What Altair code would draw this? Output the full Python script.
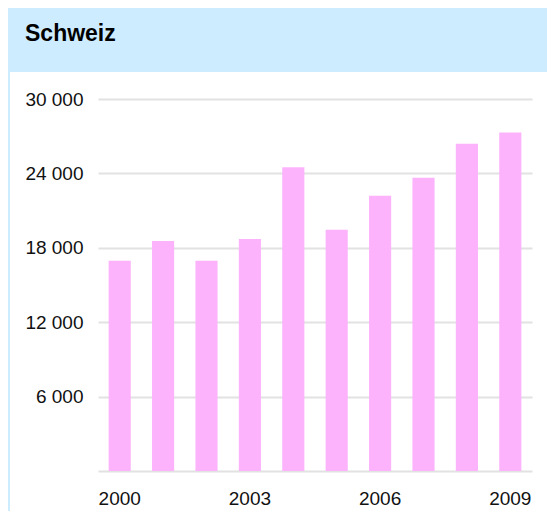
import altair as alt
import pandas as pd

# ---- data ----
years = [2000, 2001, 2002, 2003, 2004, 2005, 2006, 2007, 2008, 2009]
values = [16950, 18550, 16950, 18700, 24500, 19450, 22200, 23650, 26400, 27300]
y_ticks = [0, 6000, 12000, 18000, 24000, 30000]
x_label_years = [2000, 2003, 2006, 2009]
title_text = ["Schweiz"]

HEADER = "#cdecff"
PINK = "#fcb3fc"
FONT = "Liberation Sans"

df = pd.DataFrame({"year": years, "value": values})
tdf = pd.DataFrame({"t": title_text})

W, H = 434, 372

header = alt.Chart(tdf).mark_rect(color=HEADER).encode(
    x=alt.value(-90), x2=alt.value(449), y=alt.value(-91), y2=alt.value(-27)
)
strip = alt.Chart(tdf).mark_rect(color=HEADER).encode(
    x=alt.value(-90), x2=alt.value(-88), y=alt.value(-27), y2=alt.value(412)
)
title = alt.Chart(tdf).mark_text(
    align="left", baseline="alphabetic", fontSize=23, fontWeight="bold",
    font=FONT, color="#000000"
).encode(x=alt.value(-73), y=alt.value(-58), text="t:N")

bars = alt.Chart(df).mark_bar(color=PINK).encode(
    x=alt.X(
        "year:O",
        scale=alt.Scale(paddingInner=0.49, paddingOuter=0.245),
        axis=alt.Axis(
            values=x_label_years, labelAngle=0, title=None, ticks=False,
            domain=False, grid=False, labelPadding=18, labelFontSize=19,
            labelFont=FONT, labelColor="#111111",
        ),
    ),
    y=alt.Y(
        "value:Q",
        scale=alt.Scale(domain=[0, 30000], nice=False),
        axis=alt.Axis(
            values=y_ticks, title=None, ticks=False, domain=False, grid=True,
            gridColor="#e2e2e2", gridWidth=2, labelPadding=15,
            labelFontSize=19, labelFont=FONT, labelColor="#111111",
            labelExpr="datum.value == 0 ? '' : replace(format(datum.value, ','), ',', ' ')",
        ),
    ),
)

chart = alt.layer(header, strip, title, bars).properties(
    width=W, height=H, padding=0, background="white"
).configure_view(stroke=None)

chart.save("out.html", embed_options={"renderer": "svg", "actions": False})
